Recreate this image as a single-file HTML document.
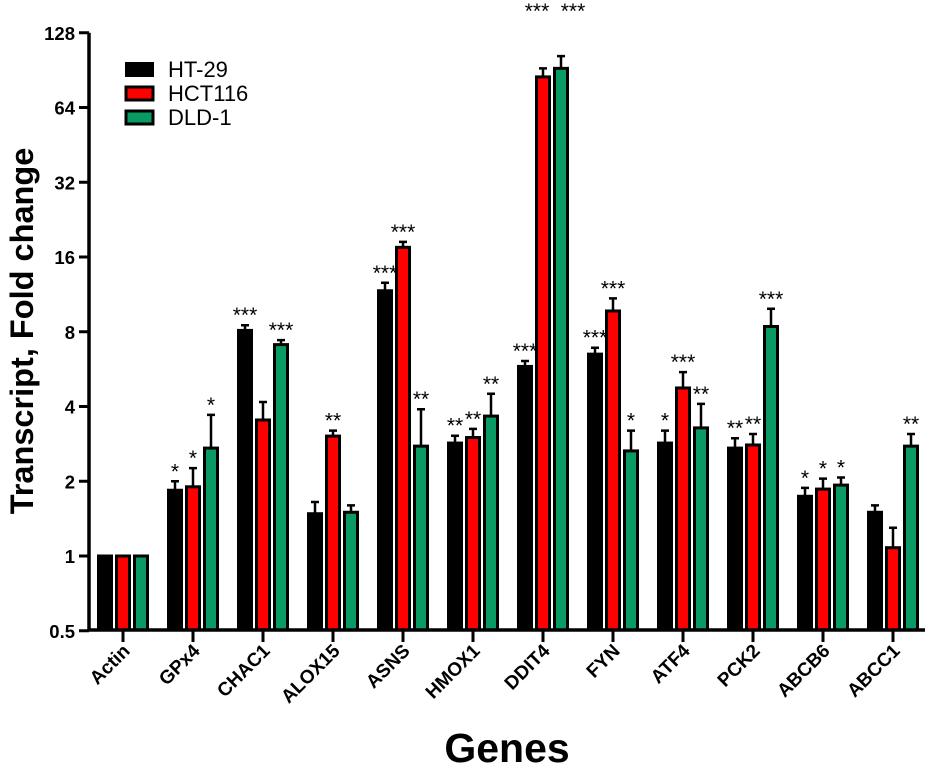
<!DOCTYPE html>
<html><head><meta charset="utf-8"><style>
html,body{margin:0;padding:0;background:#fff;}
svg{display:block;font-family:"Liberation Sans",Arial,sans-serif;}
</style></head><body>
<svg id="chart" width="932" height="771" viewBox="0 0 932 771" xmlns="http://www.w3.org/2000/svg">
<g id="stars-back"></g>
<g id="bars"></g>
<g id="stars"></g>
<g id="axes"></g>
<text x="0" y="0" transform="translate(33,331) rotate(-90)" text-anchor="middle" font-size="32.5" font-weight="bold">Transcript, Fold change</text>
<text x="507" y="762" text-anchor="middle" font-size="41" font-weight="bold">Genes</text>
<g>
<rect x="126" y="63" width="27" height="13" fill="#000" stroke="#000" stroke-width="2"/>
<text x="168" y="77" font-size="22">HT-29</text>
<rect x="126" y="87" width="27" height="13" fill="#ff0000" stroke="#000" stroke-width="3"/>
<text x="168" y="101" font-size="22">HCT116</text>
<rect x="126" y="111" width="27" height="13" fill="#0a9a63" stroke="#000" stroke-width="3"/>
<text x="168" y="125" font-size="22">DLD-1</text>
</g>
</svg>
<script>
const genes = ["Actin","GPx4","CHAC1","ALOX15","ASNS","HMOX1","DDIT4","FYN","ATF4","PCK2","ABCB6","ABCC1"];
const seriesNames = ["HT-29","HCT116","DLD-1"];
const ht29 = [1,1.84,8.1,1.48,11.7,2.85,5.8,6.5,2.85,2.72,1.74,1.5];
const hct116 = [1,1.9,3.53,3.04,17.5,3.0,85,9.7,4.75,2.8,1.86,1.08];
const dld1 = [1,2.72,7.1,1.5,2.77,3.66,92,2.65,3.28,8.4,1.93,2.77];
const ht29Err = [0,2.0,8.5,1.65,12.6,3.05,6.1,6.9,3.2,2.98,1.88,1.6];
const hct116Err = [0,2.26,4.17,3.2,18.4,3.25,92,10.9,5.5,3.1,2.05,1.3];
const dld1Err = [0,3.7,7.4,1.6,3.9,4.5,103,3.2,4.1,9.9,2.07,3.1];
const ht29Sig = ["","*","***","","***","**","***","***","*","**","*",""];
const hct116Sig = ["","*","**","**","***","**","***","***","***","**","*",""];
const dld1Sig = ["","*","***","","**","**","***","*","**","***","*","**"];
const yTicks = [0.5,1,2,4,8,16,32,64,128];

const NS="http://www.w3.org/2000/svg";
const X0=123, STEP=70, OFF=18, BW=13;
const Y1=556, PPD=74.75, AXB=630, AXL=89;
function yScale(v){return Y1-PPD*Math.log2(v);}
function xScale(i){return X0+STEP*i;}
function mk(tag,attrs,parent){const e=document.createElementNS(NS,tag);for(const k in attrs)e.setAttribute(k,attrs[k]);parent.appendChild(e);return e;}
const barsG=document.getElementById('bars'), starsG=document.getElementById('stars'), backG=document.getElementById('stars-back'), axesG=document.getElementById('axes');
const series=[[ht29,ht29Err,ht29Sig,"#000000","ht29"],[hct116,hct116Err,hct116Sig,"#ff0000","hct116"],[dld1,dld1Err,dld1Sig,"#0a9a63","dld1"]];
series.forEach((s,si)=>{
  const [vals,errs,sigs,col,nm]=s;
  vals.forEach((v,i)=>{
    const cx=xScale(i)+(si-1)*OFF;
    const yt=yScale(v);
    const r=mk('rect',{x:cx-BW/2,y:yt,width:BW,height:AXB-yt,fill:col,stroke:'#000','stroke-width':3},barsG);
    
    
    let top=yt;
    if(errs[i]>v){
      const ye=yScale(errs[i]); top=ye;
      const l=mk('path',{d:`M${cx},${yt} V${ye} M${cx-4},${ye} H${cx+4}`,stroke:'#000','stroke-width':2.5,fill:'none'},barsG);
      
      
    }
    if(sigs[i]){
      const hidden=(genes[i]==="CHAC1"&&si===1);
      let ty=hidden? 492 : top-3;
      let tx=cx;
      if(genes[i]==="DDIT4"&&si>0){ty=18; tx=xScale(i)+(si===1?-6:30);}
      const t=mk('text',{x:tx,y:ty,'text-anchor':'middle','font-size':21},hidden?backG:starsG);
      t.textContent=sigs[i];
      
      
    }
  });
});
mk('path',{d:`M${AXL},${yScale(128)} V${AXB} H925`,stroke:'#000','stroke-width':3.5,fill:'none'},axesG);
yTicks.forEach(v=>{
  const y=yScale(v);
  mk('line',{x1:AXL-10,x2:AXL,y1:y,y2:y,stroke:'#000','stroke-width':3},axesG);
  const t=mk('text',{x:AXL-14,y:y+7,'text-anchor':'end','font-size':18.5,'font-weight':'bold'},axesG);
  t.textContent=String(v);
  
  
});
genes.forEach((g,i)=>{
  const x=xScale(i);
  mk('line',{x1:x,x2:x,y1:AXB,y2:AXB+12,stroke:'#000','stroke-width':3},axesG);
  const t=mk('text',{x:0,y:0,transform:`translate(${x+8},${AXB+22}) rotate(-45)`,'text-anchor':'end','font-size':19,'font-weight':'bold'},axesG);
  t.textContent=g;
  
  
});
</script>
</body></html>
